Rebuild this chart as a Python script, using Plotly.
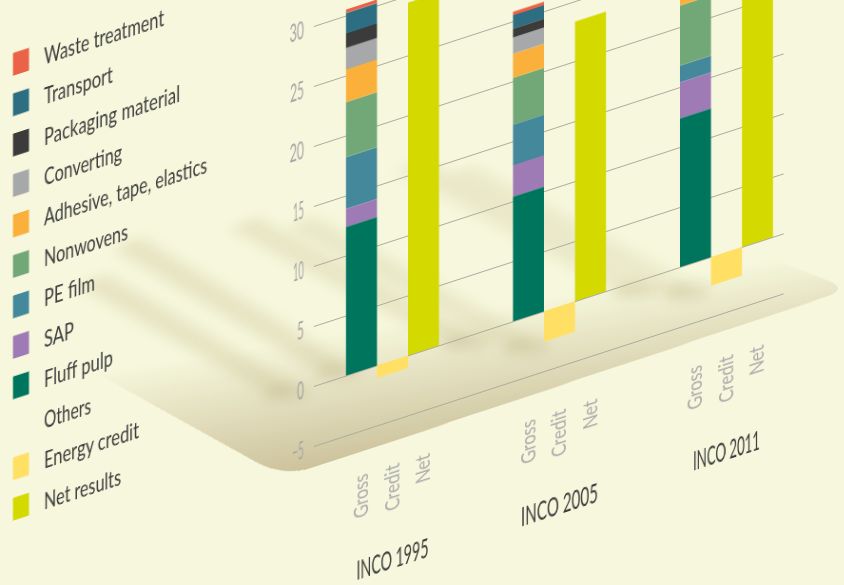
import json
import math
import plotly.graph_objects as go

# ---- data -------------------------------------------------------------
groups = ["INCO 1995", "INCO 2005", "INCO 2011"]
subcats = ["Gross", "Credit", "Net"]
fluff_pulp = [12.4, 10.4, 12.4]
sap = [1.5, 2.6, 3.0]
pe_film = [4.3, 3.4, 1.4]
nonwovens = [4.6, 3.9, 5.0]
adhesive = [2.7, 2.0, 1.9]
converting = [1.8, 1.35, 1.3]
packaging = [1.2, 0.75, 0.8]
transport = [1.7, 1.1, 0.9]
waste = [0.3, 0.3, 0.3]
energy_credit = [-1.05, -2.55, -2.4]
net_results = [29.4, 23.3, 24.6]
y_ticks = [-5, 0, 5, 10, 15, 20, 25, 30]

BG = "#f6f7dc"
COLORS = {
    "Waste treatment": "#ea6248", "Transport": "#2d6e82", "Packaging material": "#3b3b3b",
    "Converting": "#a6a8a9", "Adhesive, tape, elastics": "#fbb03b", "Nonwovens": "#72a777",
    "PE film": "#44889c", "SAP": "#9f7bb6", "Fluff pulp": "#00755e", "Others": None,
    "Energy credit": "#ffdf64", "Net results": "#d4d900",
}
legend_order = list(COLORS)
stack = [("Fluff pulp", fluff_pulp), ("SAP", sap), ("PE film", pe_film), ("Nonwovens", nonwovens),
         ("Adhesive, tape, elastics", adhesive), ("Converting", converting),
         ("Packaging material", packaging), ("Transport", transport), ("Waste treatment", waste)]

# rendered text widths, px (the reference face is a narrow one)
TEXT_WIDTHS = {
    "Waste treatment": 120, "Transport": 69, "Packaging material": 136, "Converting": 78,
    "Adhesive, tape, elastics": 163, "Nonwovens": 84, "PE film": 51, "SAP": 30, "Fluff pulp": 69,
    "Others": 47, "Energy credit": 95, "Net results": 77,
    "INCO 1995": 72, "INCO 2005": 77, "INCO 2011": 67,
    "Gross": 43, "Credit": 46, "Net": 28,
    "−5": 12, "0": 7, "5": 7, "10": 11, "15": 11, "20": 14.5, "25": 14, "30": 14.5,
}

# ---- frame ------------------------------------------------------------
W, H = 844, 720
SKEW = math.tan(math.radians(18))
TEXT_FONT = "Lato"
SLOT = 31.0
GROUP_STEP = 167 / SLOT


def gx(i, sub):
    return i * GROUP_STEP + sub


def paper(x, ys):
    """screen pixel -> paper fraction of the un-skewed figure"""
    return x / W, 1 - (ys + SKEW * x) / H


def path_of(pts):
    out = []
    for k, (x, y) in enumerate(pts):
        px, py = paper(x, y)
        out.append(("M" if k == 0 else "L") + f"{px:.5f},{py:.5f}")
    return " ".join(out) + " Z"


def corner(a, p, b, n=10):
    res = []
    for k in range(n + 1):
        t = k / n
        res.append(((1 - t) ** 2 * a[0] + 2 * t * (1 - t) * p[0] + t * t * b[0],
                    (1 - t) ** 2 * a[1] + 2 * t * (1 - t) * p[1] + t * t * b[1]))
    return res


def depth(pt):
    return pt[1] - (370 + (258 - 370) / (770 - 100) * (pt[0] - 100))


def clip(poly, t):
    out = []
    for i, a in enumerate(poly):
        b = poly[(i + 1) % len(poly)]
        da, db = depth(a) - t, depth(b) - t
        if da >= 0:
            out.append(a)
        if da * db < 0:
            s = da / (da - db)
            out.append((a[0] + s * (b[0] - a[0]), a[1] + s * (b[1] - a[1])))
    return out


shapes = []
# platform (gradient as nested bands)
platform = [(-100, 264.2)] + corner((257, 462), (285, 477), (317, 466)) + \
    corner((825, 297), (848.6, 289), (828, 281)) + [(500, 150)]
DARK, N = (205, 195, 157), 44
RGB = (246, 247, 220)
for k in range(1, N + 1):
    a = k / N
    poly = clip(platform, a * 131)
    if len(poly) < 3:
        continue
    c = tuple(round(RGB[j] + a * (DARK[j] - RGB[j])) for j in range(3))
    shapes.append(dict(type="path", path=path_of(poly), xref="paper", yref="paper",
                       fillcolor=f"rgb{c}", line_width=0, layer="below"))
N_BANDS = len(shapes)

# blurred bar shadows on the floor
streaks = [((93, 280), (287, 393), 0.28), ((127, 243), (340, 372), 0.28), ((243, 223), (467, 343), 0.26),
           ((300, 222), (527, 347), 0.22), ((410, 165), (637, 290), 0.2), ((460, 171), (687, 293), 0.18)]
for (a, b, op) in streaks:
    dx, dy = 14, -4.5
    poly = [(a[0] - dx, a[1] - dy), (a[0] + dx, a[1] + dy), (b[0] + dx, b[1] + dy), (b[0] - dx, b[1] - dy)]
    shapes.append(dict(type="path", path=path_of(poly), xref="paper", yref="paper",
                       fillcolor="#bdb27f", opacity=op, line_width=0, layer="below"))
    blob = [(b[0] + 24 * math.cos(q / 12 * math.pi), b[1] + 8 * math.sin(q / 12 * math.pi)) for q in range(24)]
    shapes.append(dict(type="path", path=path_of(blob), xref="paper", yref="paper",
                       fillcolor="#b5aa78", opacity=0.25, line_width=0, layer="below"))
N_SHADOW = len(shapes) - N_BANDS

# manual legend
annotations = []
for i, name in enumerate(legend_order):
    top = 53 + i * 40.45
    if COLORS[name]:
        poly = [(13, top), (29, top - 5.2), (29, top + 17.5), (13, top + 22.7)]
        shapes.append(dict(type="path", path=path_of(poly), xref="paper", yref="paper",
                           fillcolor=COLORS[name], line_width=0, layer="above"))
    px, py = paper(42, top + 3)
    annotations.append(dict(text=name, x=px, y=py, xref="paper", yref="paper", showarrow=False,
                            xanchor="left", yanchor="middle",
                            font=dict(family=TEXT_FONT, size=23, color="#3c3c3c", weight=400)))

for i, g in enumerate(groups):
    annotations.append(dict(text=g, x=gx(i, 1), y=1 - 685 / H, xref="x", yref="paper", showarrow=False,
                            xanchor="center", yanchor="middle",
                            font=dict(family=TEXT_FONT, size=27, color="#3c3c3c", weight=400)))

fig = go.Figure()
gross_x = [gx(i, 0) for i in range(3)]
for name, vals in stack:
    fig.add_bar(x=gross_x, y=vals, width=1, name=name, marker=dict(color=COLORS[name], line_width=0))
fig.add_bar(x=[gx(i, 1) for i in range(3)], y=energy_credit, width=1, name="Energy credit",
            marker=dict(color=COLORS["Energy credit"], line_width=0))
fig.add_bar(x=[gx(i, 2) for i in range(3)], y=net_results, width=1, name="Net results",
            marker=dict(color=COLORS["Net results"], line_width=0))

x0 = -(361.5 - 314) / SLOT
x1 = (784 - 361.5) / SLOT
# local plot area: one value unit is 12 px; -5 sits at local y 548
fig.update_layout(
    width=W, height=H, autosize=False, barmode="relative", showlegend=False,
    margin=dict(l=0, r=0, t=0, b=0), paper_bgcolor="rgba(0,0,0,0)", plot_bgcolor="rgba(0,0,0,0)",
    shapes=shapes, annotations=annotations,
    xaxis=dict(domain=[314 / W, 784 / W], range=[x0, x1], showgrid=False, zeroline=False, showline=False,
               automargin=False,
               tickvals=[gx(i, s) for i in range(3) for s in range(3)],
               ticktext=subcats * 3, tickangle=-90, ticks="", ticklabelstandoff=33,
               tickfont=dict(family=TEXT_FONT, size=20, color="#ababab", weight=400)),
    yaxis=dict(domain=[(H - 554) / H, (H - 68) / H], range=[-5.5, 35], tickvals=y_ticks,
               automargin=False,
               showgrid=True, gridcolor="#acac9f", gridwidth=1, zeroline=False, showline=False,
               ticks="outside", ticklen=4, tickcolor="rgba(0,0,0,0)",
               tickfont=dict(family=TEXT_FONT, size=25, color="#a6a6a6", weight=400)),
)

post = f"""
var gd = document.getElementById('{{plot_id}}');
document.documentElement.style.overflow = 'hidden';
document.documentElement.style.background = '{BG}';
document.body.style.margin = '0';
document.body.style.overflow = 'hidden';
document.body.style.background = '{BG}';
gd.style.transformOrigin = '0 0';
gd.style.transform = 'matrix(1,{-SKEW:.5f},0,1,0,0)';
gd.style.willChange = 'transform';
gd.querySelectorAll('.layer-below .shapelayer path').forEach(function (p, i) {{
  if (i >= {N_BANDS} && i < {N_BANDS + N_SHADOW}) p.style.filter = 'blur(6px)';
}});
var widths = {json.dumps(TEXT_WIDTHS, ensure_ascii=False)};
gd.querySelectorAll('text').forEach(function (t) {{
  var w = widths[t.textContent];
  if (!w) return;
  if (t.classList.contains('annotation-text') && t.textContent.indexOf('INCO') < 0) {{
    var L = t.getComputedTextLength();
    t.setAttribute('text-anchor', 'start');
    t.setAttribute('x', parseFloat(t.getAttribute('x')) - L / 2);
  }}
  t.setAttribute('lengthAdjust', 'spacingAndGlyphs');
  t.setAttribute('textLength', w);
}});
"""
fig.write_html("out.html", post_script=post)
